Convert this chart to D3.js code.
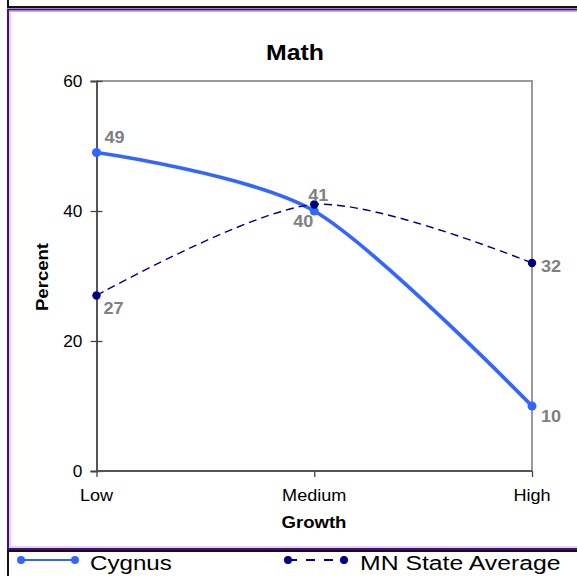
<!DOCTYPE html>
<html>
<head>
<meta charset="utf-8">
<script src="https://cdn.jsdelivr.net/npm/d3@7"></script>
<style>
  body { margin: 0; background: #fff; }
  text { font-family: Arial, "Liberation Sans", sans-serif; }
</style>
</head>
<body>
<script>
// chart values
var categories = ["Low", "Medium", "High"];
var cygnus = [49, 40, 10];
var stateAvg = [27, 41, 32];
var yTicks = [0, 20, 40, 60];
var seriesNames = ["Cygnus", "MN State Average"];

var width = 577, height = 576;
var stretch = 1.13; // text in the original is drawn a bit wide

var svg = d3.select("body").append("svg")
    .attr("width", width)
    .attr("height", height);

svg.append("rect").attr("width", width).attr("height", height).attr("fill", "#fff");

// frames
svg.append("rect")
    .attr("x", 8).attr("y", -20).attr("width", 600).attr("height", 27)
    .attr("fill", "none").attr("stroke", "#111").attr("stroke-width", 2);
svg.append("rect")
    .attr("x", 8).attr("y", 9.5).attr("width", 600).attr("height", 539.5)
    .attr("fill", "none").attr("stroke", "#4a0a78").attr("stroke-width", 2);
svg.append("rect")
    .attr("x", 10).attr("y", 11.5).attr("width", 600).attr("height", 535.5)
    .attr("fill", "none").attr("stroke", "#c9a8ec").attr("stroke-width", 1);
svg.append("rect")
    .attr("x", 8).attr("y", 551).attr("width", 600).attr("height", 40)
    .attr("fill", "none").attr("stroke", "#111").attr("stroke-width", 2);

var x = d3.scalePoint().domain(categories).range([96.5, 532]);
var y = d3.scaleLinear().domain([0, 60]).range([471, 81]);

function label(parent, px, py, str, opts) {
  opts = opts || {};
  var s = opts.stretch || stretch;
  return parent.append("text")
      .attr("transform", "translate(" + px + "," + py + ")" + (opts.rotate ? " rotate(" + opts.rotate + ")" : "") + " scale(" + s + ",1)")
      .attr("text-anchor", opts.anchor || "start")
      .attr("font-size", opts.size || 16)
      .attr("font-weight", opts.bold ? "bold" : "normal")
      .attr("fill", opts.color || "#000")
      .text(str);
}

// plot border (top + right)
svg.append("path")
    .attr("d", "M" + x.range()[0] + "," + y(60) + "H" + x.range()[1] + "V" + y(0))
    .attr("fill", "none").attr("stroke", "#999").attr("stroke-width", 2);

// y axis
var yAxis = svg.append("g")
    .attr("transform", "translate(" + x.range()[0] + ",0)")
    .call(d3.axisLeft(y).tickValues(yTicks).tickSize(6).tickPadding(9));
yAxis.select(".domain").attr("stroke", "#555").attr("stroke-width", 2);
yAxis.selectAll(".tick line").attr("x2", 6).attr("x1", -6).attr("stroke", "#444").attr("stroke-width", 1.3);
yAxis.selectAll(".tick text")
    .attr("font-size", 16).attr("font-family", "Arial, 'Liberation Sans', sans-serif")
    .attr("fill", "#000").attr("x", -13).attr("transform", "scale(1.08,1)");

// x axis
var xAxis = svg.append("g")
    .attr("transform", "translate(0," + y(0) + ")")
    .call(d3.axisBottom(x).tickSize(6).tickPadding(12));
xAxis.select(".domain").attr("stroke", "#555").attr("stroke-width", 2).attr("d", "M" + x.range()[0] + ",0H" + x.range()[1]);
xAxis.selectAll(".tick line").attr("stroke", "#444").attr("stroke-width", 1.3);
xAxis.selectAll(".tick text").remove();
categories.forEach(function(c) {
  label(svg, x(c), 501, c, {anchor: "middle", size: 16});
});

// titles
label(svg, 295, 60, "Math", {anchor: "middle", size: 22, bold: true});
label(svg, 314, 528, "Growth", {anchor: "middle", size: 16, bold: true, stretch: 1.16});
label(svg, 48, 277, "Percent", {anchor: "middle", size: 16, bold: true, rotate: -90, stretch: 1.16});

var line = d3.line()
    .x(function(d, i) { return x(categories[i]); })
    .y(function(d) { return y(d); })
    .curve(d3.curveCardinal.tension(0.15));

// Cygnus
svg.append("path")
    .datum(cygnus)
    .attr("d", line)
    .attr("fill", "none").attr("stroke", "#3366ff").attr("stroke-width", 3.7)
    .attr("stroke-linejoin", "round");
svg.selectAll(".cyg").data(cygnus).enter().append("circle")
    .attr("cx", function(d, i) { return x(categories[i]); })
    .attr("cy", function(d) { return y(d); })
    .attr("r", 4.5).attr("fill", "#3366ff");

// MN State Average
svg.append("path")
    .datum(stateAvg)
    .attr("d", line)
    .attr("fill", "none").attr("stroke", "#000080").attr("stroke-width", 1.4)
    .attr("stroke-dasharray", "8,5");
svg.selectAll(".mn").data(stateAvg).enter().append("circle")
    .attr("cx", function(d, i) { return x(categories[i]); })
    .attr("cy", function(d) { return y(d); })
    .attr("r", 4.2).attr("fill", "#000080");

// data labels: offsets per point [dx, dy, anchor]
var cygPlace = [[8, -10, "start"], [-1, 16, "end"], [9, 16, "start"]];
var mnPlace = [[7, 18, "start"], [4, -4, "middle"], [9, 9, "start"]];
cygnus.forEach(function(v, i) {
  var p = cygPlace[i];
  label(svg, x(categories[i]) + p[0], y(v) + p[1], v, {anchor: p[2], size: 16, bold: true, color: "#808080"});
});
stateAvg.forEach(function(v, i) {
  var p = mnPlace[i];
  label(svg, x(categories[i]) + p[0], y(v) + p[1], v, {anchor: p[2], size: 16, bold: true, color: "#808080"});
});

// legend
var legY = 560;
svg.append("line").attr("x1", 21).attr("x2", 75).attr("y1", legY).attr("y2", legY)
    .attr("stroke", "#3366ff").attr("stroke-width", 2);
svg.selectAll(".lc").data([21, 75]).enter().append("circle")
    .attr("cx", function(d) { return d; }).attr("cy", legY).attr("r", 4).attr("fill", "#3366ff");
label(svg, 90, 570, seriesNames[0], {size: 21, stretch: 1.15});

svg.append("line").attr("x1", 288).attr("x2", 344).attr("y1", legY).attr("y2", legY)
    .attr("stroke", "#000080").attr("stroke-width", 2.2).attr("stroke-dasharray", "9,9");
svg.selectAll(".lm").data([288, 344]).enter().append("circle")
    .attr("cx", function(d) { return d; }).attr("cy", legY).attr("r", 4).attr("fill", "#000080");
label(svg, 360, 570, seriesNames[1], {size: 21, stretch: 1.18});
</script>
</body>
</html>
